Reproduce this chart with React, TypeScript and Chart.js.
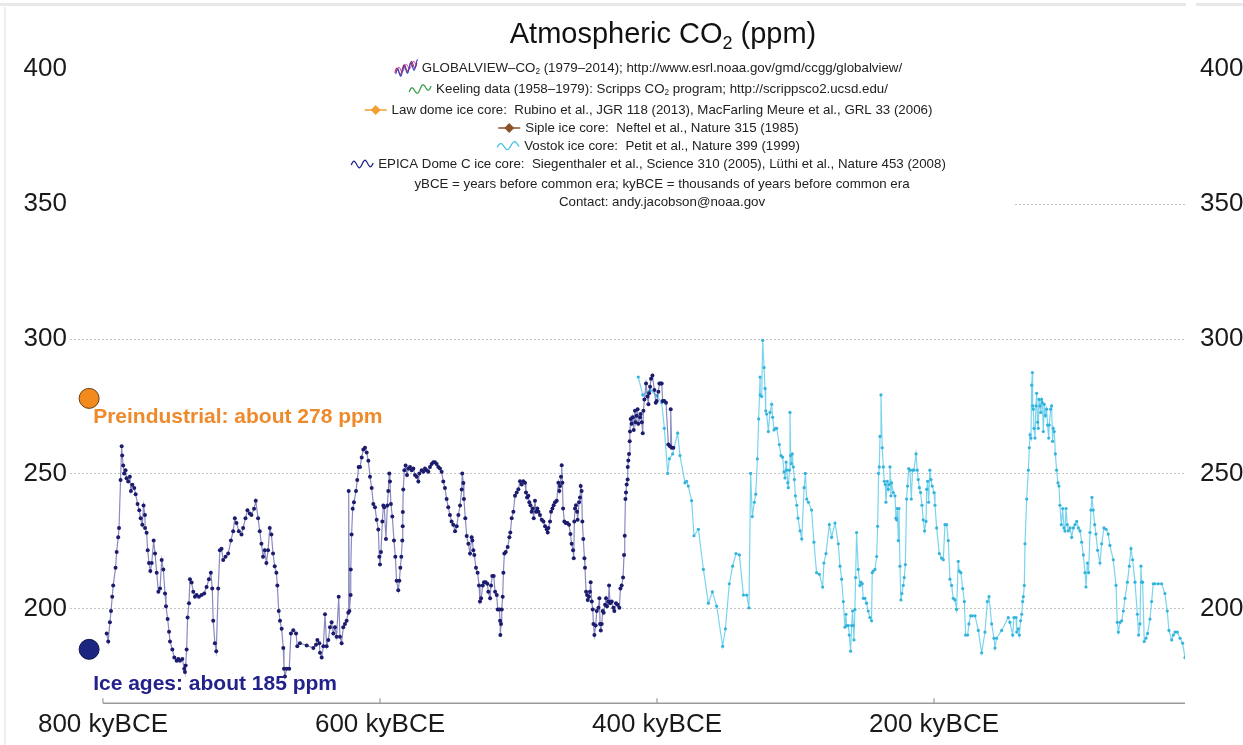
import React, { useEffect, useRef } from "react";
import { Chart, registerables } from "chart.js";

Chart.register(...registerables);

// ---------- DATA ----------
// EPICA Dome C (kyBCE, ppm)
const epicaAge = [
  797.3, 796.2, 795.0, 794.2, 793.3, 792.6, 790.9, 790.1, 789.0, 788.4, 787.3, 786.5, 786.1, 785.4, 784.7, 783.7, 783.0, 781.8, 780.6, 779.8,
  778.8, 777.4, 776.4, 775.0, 773.8, 772.8, 771.6, 770.7, 769.7, 769.6, 768.5, 767.7, 766.8, 765.8, 764.8, 763.4, 762.4, 761.2, 760.0, 758.8,
  757.6, 756.4, 755.2, 754.5, 753.3, 752.3, 751.6, 749.9, 748.5, 746.8, 745.6, 744.4, 742.7, 741.3, 740.8, 740.3, 739.6, 738.9, 737.9, 737.2,
  736.0, 734.8, 733.6, 732.4, 730.7, 728.8, 726.9, 725.2, 723.5, 722.1, 721.1, 720.4, 719.2, 718.2, 716.8, 715.6, 714.4, 713.2, 711.5, 709.6,
  707.6, 706.0, 704.8, 703.6, 701.9, 700.0, 698.8, 697.1, 695.7, 694.0, 692.8, 690.9, 689.7, 688.0, 686.8, 685.6, 684.4, 683.2, 682.0, 680.8,
  679.6, 678.4, 677.2, 676.0, 674.8, 674.1, 673.1,
  672.2, 671.0, 669.8, 669.3, 668.6, 667.4, 665.5, 664.3, 662.6, 660.6, 659.7, 657.8, 652.9, 648.1, 646.2, 645.2, 643.8, 643.3, 642.1, 640.9,
  639.7, 638.5, 637.3, 636.1, 634.9, 633.7, 632.5, 631.3, 629.8, 628.9, 627.7, 626.5, 625.3, 624.1, 622.9, 622.6, 622.1, 621.2, 621.1, 620.5,
  619.7, 618.8, 617.3, 616.4, 615.4, 614.4, 613.2, 612.0, 610.8, 609.6, 608.4, 607.2, 606.0, 604.8, 603.6, 602.4, 601.2, 600.5, 600.0, 599.3,
  598.3, 597.6, 596.9, 595.7, 594.7, 594.0, 593.3, 592.8, 592.1, 591.1, 589.9, 588.9, 588.0, 586.8, 586.0, 585.3, 584.6, 583.9, 583.6, 583.5,
  583.2, 582.4, 581.5, 580.5, 579.5, 578.3, 577.1, 575.9, 574.7, 573.5, 572.3, 571.6, 569.9, 568.7, 567.5, 566.3, 565.1, 563.9, 562.7, 561.5,
  560.3, 559.1, 557.9, 556.7, 555.5, 554.3, 553.1, 551.9, 550.7, 549.5, 548.3, 547.1, 545.8, 544.6, 543.4, 542.2, 541.0, 540.6, 539.8, 539.4,
  538.4, 537.4, 536.2, 535.0,
  533.8, 533.3, 532.6, 531.9, 530.7, 529.5, 528.5, 527.8, 527.0, 525.8, 524.9, 523.7, 522.5, 521.8, 520.5, 519.8, 518.9, 517.9, 516.9, 515.7,
  515.0, 513.8, 513.3, 513.1, 512.6, 512.1, 511.4, 510.9, 510.2, 509.2, 507.8, 506.6, 505.9, 504.9, 503.7, 502.5, 501.3, 500.1, 498.9, 497.7,
  496.5, 495.3, 494.6, 493.8, 492.9, 492.2, 491.4, 490.5, 489.7, 489.0, 488.1, 487.3, 486.4, 485.6, 484.5, 483.2, 482.0, 480.8, 479.6, 478.9,
  478.4, 477.2, 476.5, 475.5, 474.6, 473.6, 472.4, 471.2, 470.5, 470.0, 469.3, 468.8, 468.3, 467.8, 466.9, 465.9, 464.7, 463.5, 462.5, 461.6,
  460.6, 460.1, 459.7, 459.2, 458.5, 457.7, 457.3, 456.3, 455.6, 455.1, 454.4, 453.9, 453.2, 452.4, 452.0, 451.2, 450.5, 450.0, 449.1, 448.4,
  447.9, 447.1, 446.4, 445.9, 445.2, 444.3, 443.5, 442.3, 441.6, 441.1, 440.6, 439.9, 439.2, 438.5, 437.5, 436.8, 436.1, 435.1, 434.6, 433.9,
  432.7, 431.5, 430.8, 429.6, 428.4, 427.2, 426.4, 425.5, 424.5, 423.8, 423.3, 422.8, 422.4, 421.9, 421.2, 421.1, 420.7, 420.2, 419.7, 419.5,
  419.0, 418.3, 417.5, 416.8, 415.9, 415.4, 414.7, 414.0, 413.5, 412.2, 411.8, 411.0, 410.3, 409.8, 409.1, 407.9, 406.9, 406.2, 405.7, 405.0,
  404.3, 403.3, 401.9, 400.9, 400.2, 399.0, 398.3, 397.3, 396.6, 395.9, 394.7, 393.5, 391.8, 390.6, 390.1, 389.4, 388.2,
];
const epicaCO2 = [
  190.9, 187.9, 195.0, 199.2, 204.5, 208.7, 215.2, 221.1, 226.5, 230.0, 247.8, 260.3, 256.8, 253.1, 250.2, 251.4, 248.4, 247.2, 249.0, 243.7,
  246.0, 244.8, 242.5, 238.9, 236.5, 233.6, 231.2, 238.3, 234.8, 230.0, 228.2, 221.7, 217.0, 214.0, 217.0, 225.3, 220.5, 213.4, 206.3, 207.5,
  218.1, 214.6, 205.7, 201.0, 196.2, 191.5, 187.9, 184.9, 182.0, 180.8, 181.4, 180.8, 181.4, 177.8, 176.6, 179.0, 184.9, 196.8, 202.1, 211.0,
  209.8, 206.3, 204.5, 205.1, 204.5, 205.1, 205.7, 208.1, 211.0, 213.4, 207.5, 195.6, 187.3, 184.3, 207.5, 221.7, 222.3, 218.1, 219.3, 220.5,
  225.3, 228.8, 233.6, 231.8, 228.8, 227.6, 230.0, 233.6, 236.5, 235.3, 234.8, 237.1, 240.1, 233.6, 228.8, 224.1, 219.3, 221.7, 217.0, 221.7,
  230.0, 227.6, 220.5, 215.8, 213.4, 208.7, 199.2,
  195.6, 192.6, 185.5, 177.8, 174.9, 177.8, 177.8, 190.9, 192.1, 190.9, 186.1, 187.3, 186.4, 185.5, 186.7, 188.5, 187.3, 183.7, 182.0, 186.1,
  198.0, 186.1, 188.5, 193.2, 195.0, 190.9, 193.2, 189.7, 204.5, 189.7, 187.3, 193.2, 194.4, 195.6, 198.6, 243.7, 199.2, 205.1, 214.6, 227.6,
  237.1, 239.5, 243.7, 247.8, 252.6, 252.6, 256.1, 259.1, 259.7, 257.9, 254.9, 249.0, 244.8, 238.9, 237.7, 233.0, 229.4, 219.3, 216.4, 221.1,
  232.4, 238.3, 237.7, 225.9, 238.3, 243.7, 250.2, 247.2, 238.9, 234.2, 225.3, 219.3, 210.4, 206.9, 210.4, 215.2, 219.3, 225.3, 230.6, 235.9,
  244.2, 251.4, 253.1, 249.6, 252.0, 252.6, 251.4, 252.0, 249.6, 249.0, 247.2, 250.2, 251.4, 250.8, 252.0, 251.4, 250.8, 252.6, 253.7, 254.3,
  254.3, 253.7, 252.6, 252.0, 250.8, 247.2, 244.8, 240.7, 237.7, 234.8, 232.4, 231.2, 228.8, 230.6, 234.8, 238.3, 244.2, 250.2, 246.6, 240.7,
  233.6, 227.0, 224.1, 220.5,
  226.5, 225.3, 221.7, 220.0, 215.2, 213.4, 208.7, 202.7, 203.9, 208.7, 209.9, 209.9, 209.3, 206.3, 203.9, 208.7, 212.2, 212.2, 206.3, 205.1,
  199.8, 199.8, 195.6, 190.3, 194.4, 199.8, 204.5, 213.4, 220.5, 221.1, 222.9, 226.5, 228.3, 233.6, 236.0, 241.9, 243.1, 244.3, 247.3, 246.1,
  247.3, 246.7, 243.1, 241.3, 241.9, 239.5, 238.4, 236.0, 237.2, 233.6, 240.1, 236.0, 237.2, 236.0, 234.8, 233.0, 232.4, 230.6, 229.5, 228.3,
  230.0, 232.4, 236.0, 237.2, 238.4, 239.5, 240.1, 246.7, 243.7, 245.5, 249.0, 253.2, 246.7, 237.2, 232.4, 231.8, 231.8, 231.2, 227.7, 224.1,
  221.7, 218.8, 232.4, 237.2, 238.4, 236.0, 233.0, 239.5, 241.3, 245.5, 243.7, 232.4, 225.9, 218.8, 215.2, 206.3, 205.1, 203.3, 204.5, 206.3,
  209.9, 202.7, 199.8, 194.4, 190.3, 193.8, 199.2, 200.4, 203.9, 194.4, 192.0, 194.4, 199.2, 198.6, 201.5, 203.9, 201.0, 202.7, 208.7, 202.1,
  202.7, 200.4, 199.2, 202.1, 201.5, 200.4, 207.5, 208.7, 211.6, 220.0, 227.1, 240.7, 243.1, 246.1, 247.9, 252.6, 255.0, 257.4, 262.1, 265.7,
  270.4, 268.6, 271.0, 266.3, 273.4, 269.2, 271.6, 274.0, 268.6, 271.0, 272.2, 269.2, 265.1, 273.4, 277.6, 283.5, 278.7, 275.8, 279.9, 282.3,
  285.3, 286.5, 281.1, 276.4, 277.0, 280.5, 283.5, 283.5, 283.5, 277.0, 277.0, 276.4, 260.9, 260.3, 274.0, 259.7, 259.7,
];

// Vostok (kyBCE, ppm)
const vostokAge = [
  413.5, 410.3, 405.0, 400.0, 396.6, 394.7, 392.3, 391.1, 388.7, 385.1, 383.4, 379.8, 378.6, 377.4, 375.0, 373.3, 370.1, 366.5, 362.9, 360.0,
  356.9, 352.6, 350.6, 347.8, 345.4, 343.0, 340.5, 337.6, 335.2, 333.6, 332.4, 331.2, 329.7, 328.7, 327.5, 326.6, 325.6, 325.5, 324.4, 323.7,
  322.7, 322.0, 321.5, 320.8, 319.6, 318.4, 317.2, 316.5, 315.5, 314.3, 313.6, 311.7, 310.5, 309.3, 308.3, 307.6, 306.8, 306.4, 305.6, 305.2,
  304.4, 304.0, 303.5, 303.0, 302.3, 301.6, 300.8, 300.1, 299.1, 298.2, 296.7, 295.5, 293.8, 292.9, 291.9, 290.7,
  288.4, 286.7, 284.8, 282.8, 280.4, 279.5, 278.0, 275.6, 273.9, 271.5, 269.1, 267.9, 266.7, 265.5, 264.3, 263.6, 263.1, 261.9, 261.2, 260.2,
  259.5, 258.8, 258.3, 257.8, 257.1, 256.6, 255.9, 254.7, 253.5, 252.8, 251.8, 251.1, 249.9, 248.7, 247.5, 246.3, 245.1, 244.6, 243.9, 242.6,
  241.4, 240.7, 240.0, 239.5, 239.0, 238.3, 237.4, 236.6, 235.9, 235.2, 234.7, 233.7, 233.0, 232.3, 231.8, 231.1, 230.6, 229.4, 228.2, 227.5,
  227.0, 226.5, 225.8, 225.3, 224.6, 223.9, 223.2, 222.2, 221.5, 220.7, 219.8, 219.1, 218.3, 217.4, 216.4, 215.5, 214.5, 213.0, 212.1, 211.4,
  210.6, 209.7, 208.7, 207.8, 206.8, 205.8, 205.3, 204.6, 203.9, 203.0, 202.2, 201.3, 200.0, 199.3, 198.1, 196.2, 194.5, 193.3, 192.1, 190.9,
  189.7, 188.5, 187.3, 186.1, 184.9, 183.7, 182.5, 181.8, 180.6, 179.3, 178.1, 177.2, 175.7, 174.8, 173.6, 172.4, 170.4, 168.0, 165.6, 163.2,
  161.5, 160.3,
  158.4, 156.7, 156.0, 154.8, 151.2, 146.4, 145.2, 143.2, 142.3, 140.8, 140.3, 139.1, 138.4, 137.5, 136.7, 136.0, 135.5, 134.8, 134.3, 133.1,
  131.9, 131.2, 130.7, 130.0, 129.5, 129.0, 128.8, 128.3, 127.8, 127.1, 126.4, 125.9, 125.2, 124.7, 124.2, 123.5, 123.0, 122.3, 121.8, 121.1,
  120.4, 119.6, 118.7, 118.0, 117.2, 116.8, 115.8, 115.1, 114.4, 113.9, 113.2, 112.4, 111.5, 110.5, 109.8, 109.1, 108.1, 107.1, 106.2, 105.5,
  104.7, 103.8, 103.0, 101.8, 100.6, 99.4, 98.2, 97.0, 95.8, 94.6, 93.4, 92.2, 91.0, 90.3, 89.3, 88.4, 87.4, 86.7, 86.0, 85.0,
  84.0, 83.1, 81.9, 80.2, 79.0, 77.3, 75.8, 74.2, 73.0, 70.6, 68.6, 67.7, 66.9, 65.7, 64.5, 63.3, 62.1, 60.4, 59.0, 57.8,
  56.6, 54.9, 53.2, 52.3, 51.3, 50.6, 50.1, 49.4, 48.2, 47.0, 45.8, 44.1, 42.9, 41.7, 40.5, 38.1, 35.7, 33.3, 31.6, 30.4,
  28.4, 27.2, 26.0, 24.3, 22.4, 20.5, 18.8,
];
const vostokCO2 = [
  285.9, 279.3, 281.0, 279.0, 276.4, 266.9, 250.2, 255.6, 257.4, 265.1, 256.8, 246.7, 247.3, 245.5, 240.1, 227.1, 229.5, 214.6, 202.1, 206.3,
  201.0, 186.1, 192.6, 209.3, 215.8, 220.5, 220.0, 205.1, 205.1, 200.4, 250.2, 234.2, 239.5, 242.5, 255.6, 270.4, 285.9, 279.3, 278.7, 299.5,
  289.4, 281.7, 273.4, 272.2, 265.7, 272.8, 275.8, 271.0, 266.3, 266.9, 266.9, 260.9, 256.8, 256.2, 250.8, 248.5, 254.4, 251.4, 246.7, 244.9,
  251.4, 272.8, 256.8, 253.8, 257.4, 252.6, 247.9, 241.9, 238.4, 233.6, 228.9, 225.9, 244.9, 250.2, 240.7, 239.5,
  236.6, 224.7, 213.4, 212.8, 208.1, 217.0, 220.5, 231.2, 226.5, 231.8, 224.1, 215.8, 211.0, 202.7, 193.2, 198.0, 193.8, 193.8, 190.3, 184.3,
  193.8, 199.2, 193.8, 188.5, 199.8, 211.6, 228.3, 214.6, 208.7, 209.9, 209.3, 203.9, 203.9, 202.1, 199.2, 196.8, 195.6, 213.4, 214.0, 214.6,
  219.4, 230.6, 250.2, 252.6, 263.9, 279.3, 259.7, 252.6, 247.3, 246.1, 239.5, 247.3, 244.3, 246.1, 252.6, 241.9, 246.7, 243.1, 241.9, 233.6,
  233.0, 237.2, 225.3, 237.2, 215.8, 203.3, 205.7, 208.7, 211.6, 216.4, 240.7, 245.5, 252.0, 251.4, 240.7, 251.4, 251.4, 257.4, 251.4, 247.9,
  244.9, 243.1, 238.4, 233.0, 228.9, 232.4, 244.3, 247.3, 239.5, 251.4, 247.9, 245.5, 243.1, 238.4, 230.0, 220.5, 218.8, 218.2, 231.2, 231.2,
  225.3, 211.0, 208.7, 203.9, 203.3, 199.8, 217.6, 214.0, 213.4, 207.5, 202.7, 190.3, 190.3, 194.4, 197.4, 197.4, 197.4, 192.0, 183.7, 191.4,
  202.7, 204.5,
  194.4, 189.1, 185.5, 189.1, 192.0, 196.8, 195.0, 190.3, 196.8, 196.8, 191.4, 192.6, 190.3, 195.6, 198.0, 202.7, 204.5, 208.7, 224.1, 240.7,
  251.4, 259.7, 264.5, 263.3, 282.9, 287.6, 275.2, 274.0, 266.9, 263.3, 275.2, 279.9, 269.2, 266.9, 277.6, 275.2, 272.8, 277.6, 276.4, 265.7,
  275.8, 271.6, 274.0, 268.1, 263.3, 268.1, 274.0, 275.2, 262.1, 266.9, 265.7, 257.4, 251.4, 246.7, 245.5, 238.4, 231.2, 237.2, 230.0, 228.9,
  237.2, 231.2, 228.9, 230.0, 226.5, 230.0, 231.2, 232.4, 230.0, 228.9, 224.7, 220.0, 213.4, 208.1, 217.0, 213.4, 228.3, 236.6, 241.3, 236.6,
  231.2, 227.7, 221.7, 217.0, 224.1, 230.0, 229.5, 227.7, 223.5, 218.2, 208.7, 195.0, 191.4, 195.0, 195.6, 199.2, 203.9, 209.9, 215.8, 222.3,
  218.2, 209.9, 198.0, 190.3, 194.4, 215.8, 209.9, 209.9, 187.9, 189.1, 190.9, 196.2, 202.7, 209.3, 209.3, 209.3, 209.3, 205.7, 199.2, 192.0,
  188.5, 190.3, 191.4, 191.4, 189.1, 187.3, 181.9,
];

// Reference markers
const preindustrialAge = [810];
const preindustrialCO2 = [278];
const iceAgeAge = [810];
const iceAgeCO2 = [185];

// Axis ticks
const xTickValues = [800, 600, 400, 200];
const yTickValues = [200, 250, 300, 350, 400];

// Texts
const titleText = "Atmospheric CO₂ (ppm)";
const legendTexts = [
  "GLOBALVIEW–CO₂ (1979–2014); http://www.esrl.noaa.gov/gmd/ccgg/globalview/",
  "Keeling data (1958–1979): Scripps CO₂ program; http://scrippsco2.ucsd.edu/",
  "Law dome ice core:  Rubino et al., JGR 118 (2013), MacFarling Meure et al., GRL 33 (2006)",
  "Siple ice core:  Neftel et al., Nature 315 (1985)",
  "Vostok ice core:  Petit et al., Nature 399 (1999)",
  "EPICA Dome C ice core:  Siegenthaler et al., Science 310 (2005), Lüthi et al., Nature 453 (2008)",
  "yBCE = years before common era; kyBCE = thousands of years before common era",
  "Contact: andy.jacobson@noaa.gov",
];
const legendIcons = ["globalview", "keeling", "law", "siple", "vostok", "epica", "", ""];
const preindustrialLabel = "Preindustrial: about 278 ppm";
const iceAgeLabel = "Ice ages: about 185 ppm";

// ---------- STYLE / LAYOUT ----------
const W = 1243;
const H = 745;
const FONT = '"Liberation Sans", Arial, Helvetica, sans-serif';
const NAVY = "#1c1c6e";
const CYAN = "#34b4dc";
const legendY = [68, 89, 110, 128, 146, 164, 184, 202];

function drawRich(ctx: CanvasRenderingContext2D, text: string, cx: number, cy: number, size: number, color: string): number {
  const parts = text.split("₂");
  const sub = size * 0.62;
  ctx.font = `${size}px ${FONT}`;
  const widths = parts.map((p) => ctx.measureText(p).width);
  ctx.font = `${sub}px ${FONT}`;
  const subW = ctx.measureText("2").width;
  const total = widths.reduce((a, b) => a + b, 0) + subW * (parts.length - 1);
  let x = cx - total / 2;
  const left = x;
  ctx.fillStyle = color;
  ctx.textBaseline = "middle";
  ctx.textAlign = "left";
  parts.forEach((p, i) => {
    ctx.font = `${size}px ${FONT}`;
    ctx.fillText(p, x, cy);
    x += widths[i];
    if (i < parts.length - 1) {
      ctx.font = `${sub}px ${FONT}`;
      ctx.fillText("2", x, cy + size * 0.3);
      x += subW;
    }
  });
  return left;
}

function wave(ctx: CanvasRenderingContext2D, x0: number, y: number, w: number, amp: number, periods: number, rise: number, color: string, lw = 1.2) {
  ctx.beginPath();
  for (let i = 0; i <= 40; i++) {
    const t = i / 40;
    const px = x0 + t * w;
    const py = y + rise / 2 - t * rise - Math.sin(t * periods * Math.PI * 2) * amp;
    if (i === 0) ctx.moveTo(px, py);
    else ctx.lineTo(px, py);
  }
  ctx.strokeStyle = color;
  ctx.lineWidth = lw;
  ctx.stroke();
}

function diamondLine(ctx: CanvasRenderingContext2D, x0: number, y: number, w: number, color: string) {
  ctx.beginPath();
  ctx.moveTo(x0, y);
  ctx.lineTo(x0 + w, y);
  ctx.strokeStyle = color;
  ctx.lineWidth = 1.5;
  ctx.stroke();
  const cx = x0 + w / 2;
  const s = 5;
  ctx.beginPath();
  ctx.moveTo(cx, y - s);
  ctx.lineTo(cx + s, y);
  ctx.lineTo(cx, y + s);
  ctx.lineTo(cx - s, y);
  ctx.closePath();
  ctx.fillStyle = color;
  ctx.fill();
}

function drawIcon(ctx: CanvasRenderingContext2D, kind: string, right: number, y: number) {
  const w = 22;
  const x0 = right - w;
  ctx.save();
  switch (kind) {
    case "globalview":
      wave(ctx, x0, y, w, 4, 3, 10, "#d42a3a", 1.1);
      wave(ctx, x0 + 1, y + 1, w, 4.5, 3.3, 10, "#3040c8", 1.1);
      wave(ctx, x0 + 2, y - 1, w - 2, 3, 2.7, 8, "#a03090", 0.9);
      break;
    case "keeling":
      wave(ctx, x0, y, w, 3.5, 2, 6, "#2c9a3c", 1.2);
      break;
    case "law":
      diamondLine(ctx, x0, y, w, "#f0a030");
      break;
    case "siple":
      diamondLine(ctx, x0, y, w, "#8a5228");
      break;
    case "vostok":
      wave(ctx, x0, y, w, 3.5, 1.6, 3, "#3cc0e6", 1.2);
      break;
    case "epica":
      wave(ctx, x0, y, w, 3.5, 2, 2, "#1c1c8a", 1.2);
      break;
  }
  ctx.restore();
}

const overlayPlugin = {
  id: "overlay",
  beforeDraw(chart: any) {
    const ctx: CanvasRenderingContext2D = chart.ctx;
    ctx.save();
    ctx.fillStyle = "#ffffff";
    ctx.fillRect(0, 0, W, H);
    // faint frame artefacts of the source picture
    ctx.fillStyle = "#e8e8e8";
    ctx.fillRect(0, 3, 1186, 3);
    ctx.fillRect(1196, 3, W - 1196, 3);
    ctx.fillStyle = "#efefef";
    ctx.fillRect(4, 7, 2, H - 7);
    ctx.restore();
  },
  beforeDatasetsDraw(chart: any) {
    const ctx: CanvasRenderingContext2D = chart.ctx;
    const xs = chart.scales.x;
    const ys = chart.scales.y;
    const area = chart.chartArea;
    ctx.save();
    // partial 350 grid line visible on the right side
    ctx.strokeStyle = "#c4c4c4";
    ctx.lineWidth = 1;
    ctx.setLineDash([2, 2]);
    const y350 = Math.round(ys.getPixelForValue(350)) + 0.5;
    ctx.beginPath();
    ctx.moveTo(1015, y350);
    ctx.lineTo(area.right, y350);
    ctx.stroke();
    ctx.setLineDash([]);
    // x axis line from 800 kyBCE to the right edge, with inward ticks
    const yb = area.bottom;
    const x800 = xs.getPixelForValue(800);
    ctx.strokeStyle = "#9a9a9a";
    ctx.lineWidth = 1.6;
    ctx.beginPath();
    ctx.moveTo(x800, yb);
    ctx.lineTo(area.right, yb);
    ctx.stroke();
    ctx.lineWidth = 1.2;
    xTickValues.forEach((v) => {
      const px = xs.getPixelForValue(v);
      ctx.beginPath();
      ctx.moveTo(px, yb);
      ctx.lineTo(px, yb - 5);
      ctx.stroke();
    });
    ctx.restore();
  },
  afterDatasetsDraw(chart: any) {
    const ctx: CanvasRenderingContext2D = chart.ctx;
    const xs = chart.scales.x;
    const ys = chart.scales.y;
    ctx.save();
    // annotations
    ctx.textAlign = "left";
    ctx.textBaseline = "middle";
    ctx.font = `bold 21px ${FONT}`;
    ctx.fillStyle = "#ee8a2c";
    ctx.fillText(preindustrialLabel, xs.getPixelForValue(807.1), ys.getPixelForValue(271.0));
    ctx.fillStyle = "#22228a";
    ctx.fillText(iceAgeLabel, xs.getPixelForValue(807.1), ys.getPixelForValue(172.2));
    // title
    drawRich(ctx, titleText, 663, 35, 29, "#111111");
    // legend
    legendTexts.forEach((t, i) => {
      const left = drawRich(ctx, t, 662, legendY[i], 13.3, "#222222");
      if (legendIcons[i]) drawIcon(ctx, legendIcons[i], left - 5, legendY[i]);
    });
    ctx.restore();
  },
};

export default function App() {
  const ref = useRef<HTMLCanvasElement | null>(null);

  useEffect(() => {
    if (!ref.current) return;
    const toXY = (xs: number[], ys: number[]) => xs.map((x, i) => ({ x, y: ys[i] }));
    const tickFont = { family: FONT, size: 26 };
    const chart = new Chart(ref.current, {
      type: "scatter",
      data: {
        datasets: [
          {
            label: "Preindustrial",
            data: toXY(preindustrialAge, preindustrialCO2),
            pointRadius: 10,
            pointBackgroundColor: "#f28a1e",
            pointBorderColor: "#6a4010",
            pointBorderWidth: 1,
            clip: false,
          } as any,
          {
            label: "Ice ages",
            data: toXY(iceAgeAge, iceAgeCO2),
            pointRadius: 10,
            pointBackgroundColor: "#1a2680",
            pointBorderColor: "#101850",
            pointBorderWidth: 1,
            clip: false,
          } as any,
          {
            label: "EPICA Dome C",
            data: toXY(epicaAge, epicaCO2),
            showLine: true,
            borderColor: "rgba(60,60,150,0.6)",
            borderWidth: 1.2,
            pointRadius: 2,
            pointBackgroundColor: NAVY,
            pointBorderWidth: 0,
          },
          {
            label: "Vostok",
            data: toXY(vostokAge, vostokCO2),
            showLine: true,
            borderColor: "rgba(100,205,235,0.85)",
            borderWidth: 1.2,
            pointRadius: 1.6,
            pointBackgroundColor: CYAN,
            pointBorderWidth: 0,
          },
        ],
      },
      options: {
        animation: false,
        responsive: false,
        events: [],
        layout: { padding: 0 },
        plugins: { legend: { display: false }, tooltip: { enabled: false }, title: { display: false } },
        scales: {
          x: {
            type: "linear",
            reverse: true,
            min: 18.8,
            max: 823.8,
            grid: { display: false, drawTicks: false },
            border: { display: false },
            afterBuildTicks: (s: any) => {
              s.ticks = xTickValues.map((v) => ({ value: v }));
            },
            afterFit: (s: any) => {
              s.height = 41.7;
            },
            ticks: {
              autoSkip: false,
              maxRotation: 0,
              padding: 6,
              font: tickFont,
              color: "#1a1a1a",
              callback: (v: any) => `${v} kyBCE`,
            },
          },
          y: {
            position: "left",
            min: 165,
            max: 414.3,
            afterBuildTicks: (s: any) => {
              s.ticks = yTickValues.map((v) => ({ value: v }));
            },
            afterFit: (s: any) => {
              s.width = 70;
            },
            grid: {
              drawTicks: false,
              lineWidth: 1,
              color: (c: any) => (c.tick && c.tick.value <= 300 ? "#c4c4c4" : "rgba(0,0,0,0)"),
            },
            border: { display: false, dash: [2, 2] },
            ticks: { padding: 3, font: tickFont, color: "#1a1a1a" },
          },
          y2: {
            position: "right",
            min: 165,
            max: 414.3,
            afterBuildTicks: (s: any) => {
              s.ticks = yTickValues.map((v) => ({ value: v }));
            },
            afterFit: (s: any) => {
              s.width = 58;
            },
            grid: { display: false, drawTicks: false },
            border: { display: false },
            ticks: { padding: 15, font: tickFont, color: "#1a1a1a" },
          },
        },
      } as any,
      plugins: [overlayPlugin],
    });
    return () => chart.destroy();
  }, []);

  return (
    <div style={{ position: "fixed", left: 0, top: 0, width: W, height: H, overflow: "hidden", background: "#fff" }}>
      <canvas ref={ref} width={W} height={H} style={{ display: "block", width: W, height: H }} />
    </div>
  );
}
